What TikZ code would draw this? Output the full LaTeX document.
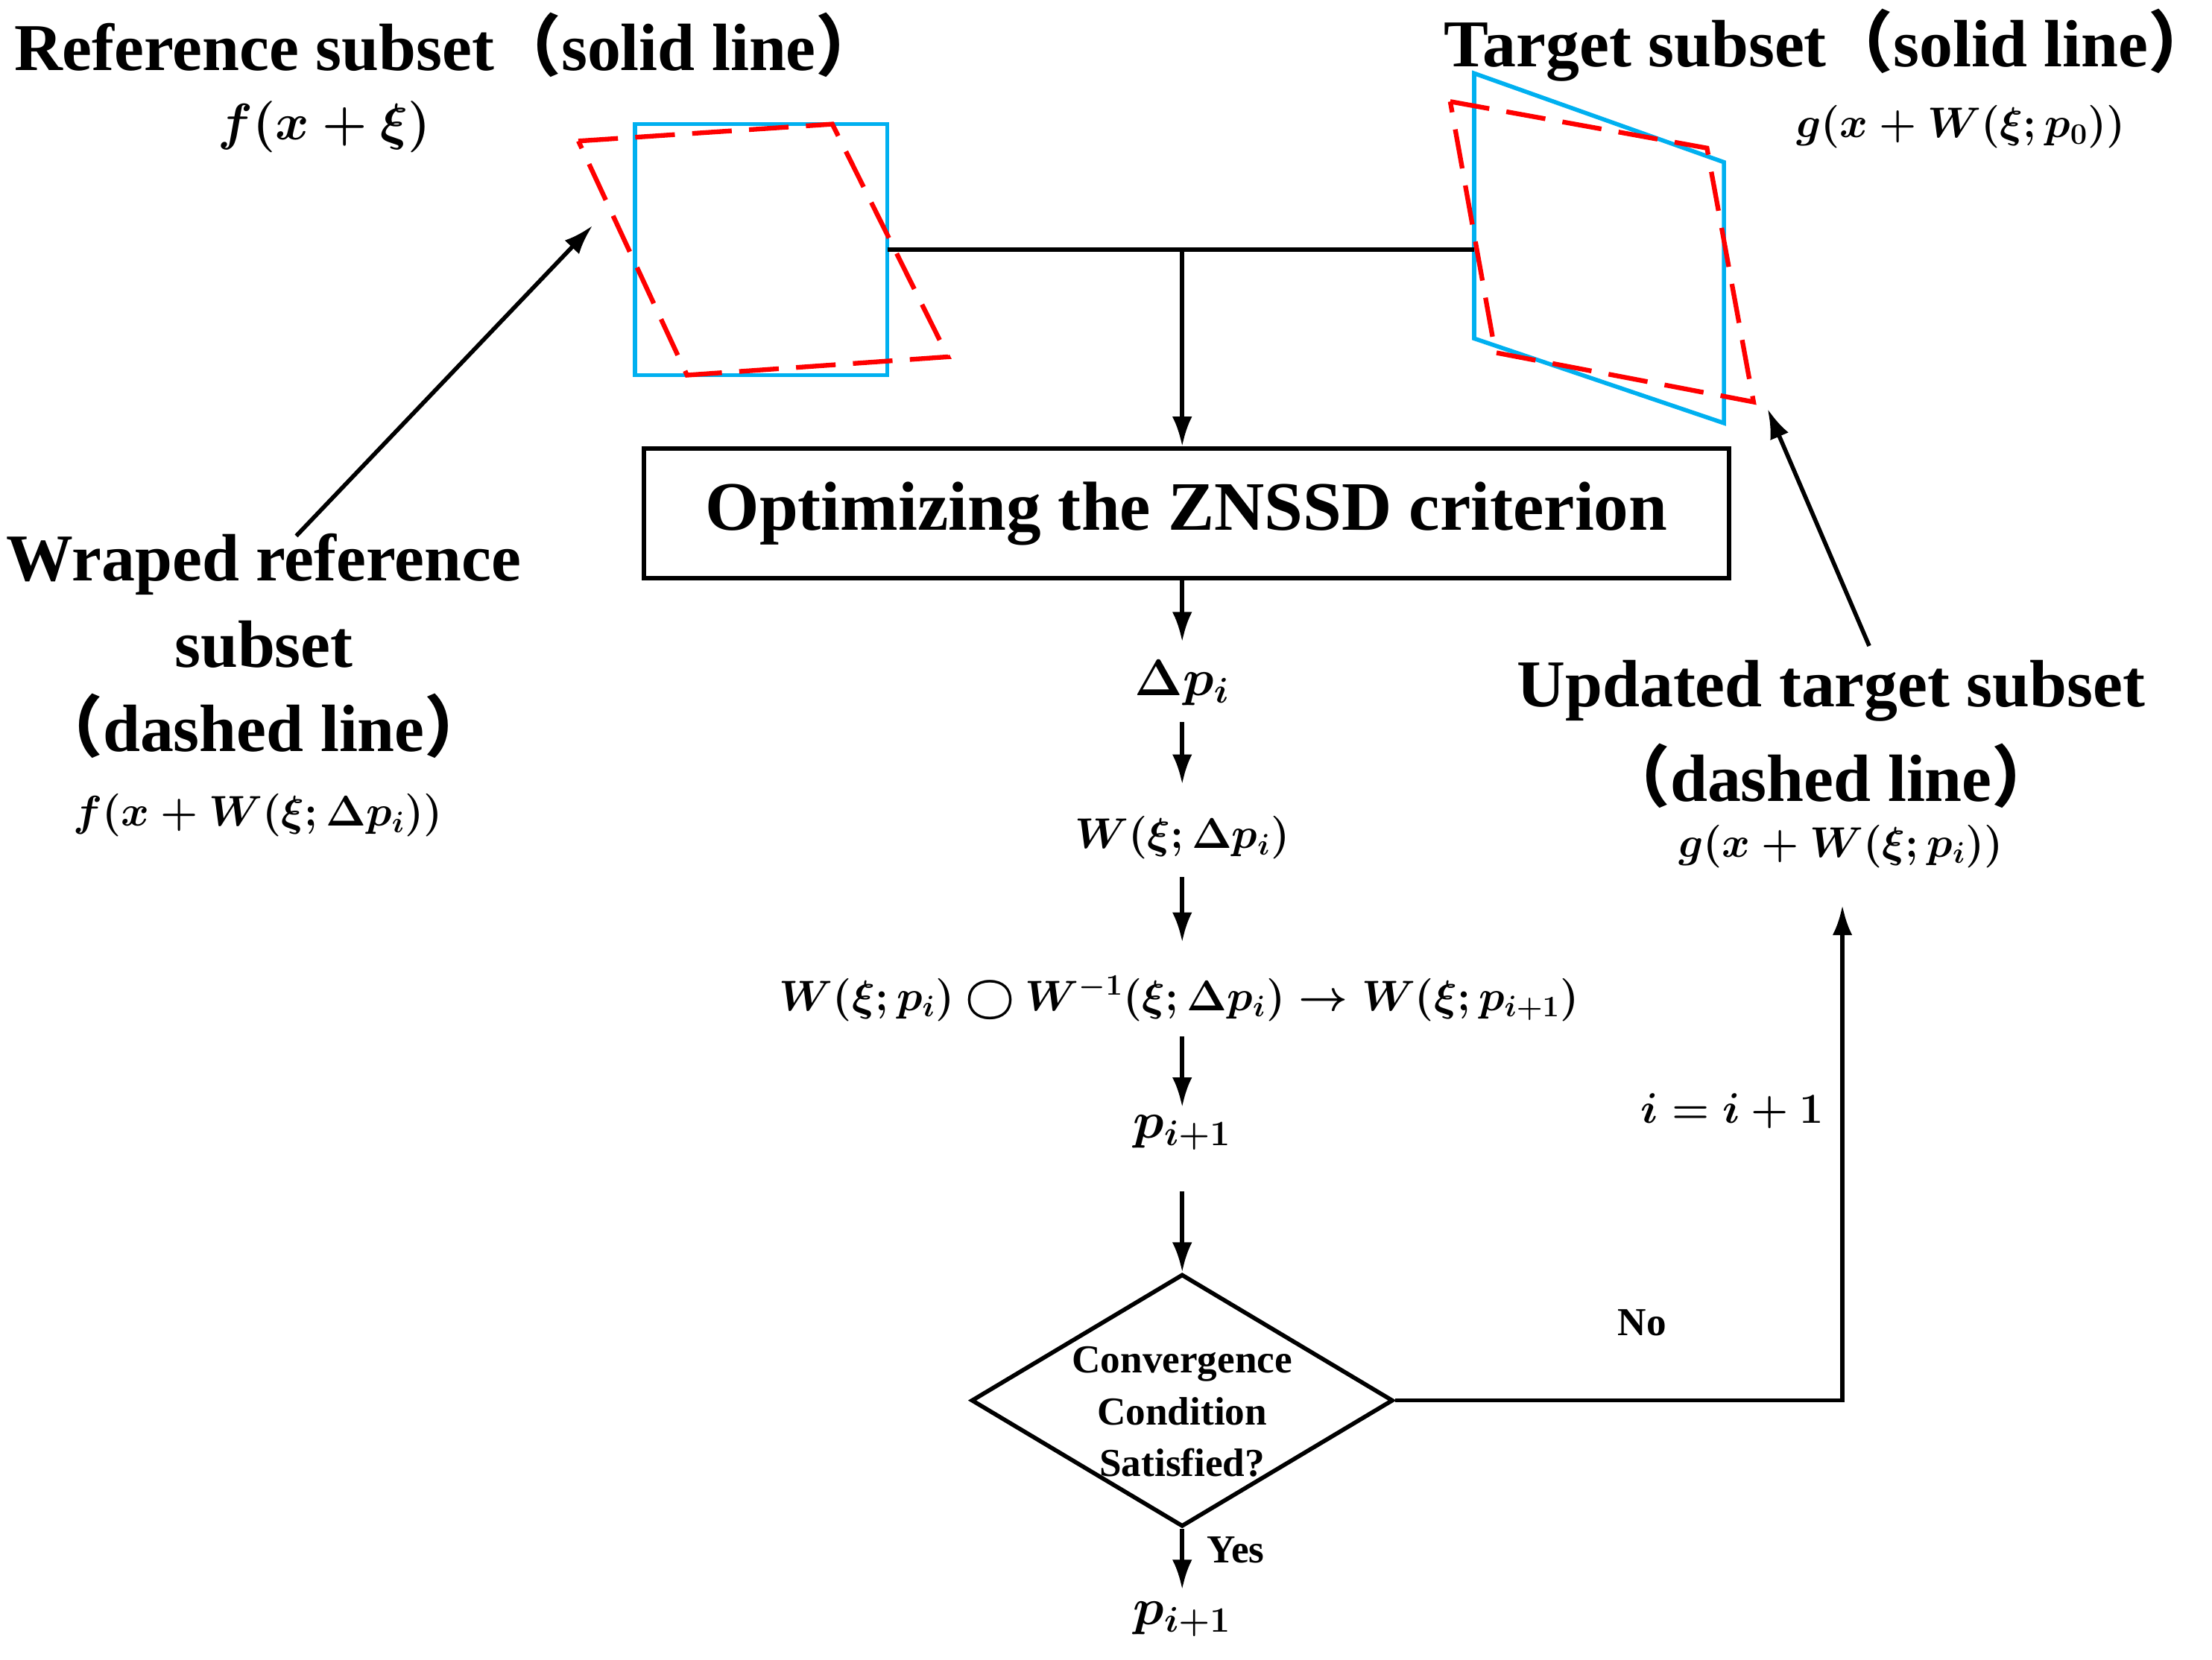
\documentclass[tikz,border=0pt]{standalone}
\usepackage{amsmath,bm}
\usepackage{fontspec}
\setmainfont{Liberation Serif}
\newfontfamily\cjk{Noto Sans CJK SC}
\usetikzlibrary{arrows.meta,shapes.geometric}
\newcommand{\lp}{{\cjk （}}
\newcommand{\rp}{{\cjk ）}}
\begin{document}
\begin{tikzpicture}[x=0.02cm,y=-0.02cm,
  line/.style={line width=1.7pt},
  arr/.style={line width=1.7pt,-{Latex[length=12pt,width=8pt]}},
  blue/.style={draw={rgb,255:red,0;green,176;blue,240},line width=1.7pt},
  red/.style={draw=red,line width=1.9pt,dash pattern=on 16pt off 7pt},
  big/.style={font=\fontsize{27}{31}\selectfont\bfseries},
  mth/.style={font=\fontsize{20}{24}\selectfont\boldmath},
  mths/.style={font=\fontsize{17.5}{21}\selectfont\boldmath},
  sm/.style={font=\fontsize{16}{19}\selectfont\bfseries}]
\useasboundingbox (0,0) rectangle (1568,1177);
% left subsets
\draw[blue] (450,88) rectangle (629,266);
\draw[red] (410,100) -- (590,88) -- (672,253) -- (487,266) -- cycle;
% right subsets
\draw[blue] (1045,52) -- (1222,115) -- (1222,300) -- (1045,240) -- cycle;
\draw[red] (1028,72) -- (1210,105) -- (1243,285) -- (1060,250) -- cycle;
% titles
\node[big] (t1) at (318,32) {Reference subset\lp solid line\rp};
\node[mth] (f1) at (230,90) {$f(x+\xi)$};
\node[big] (t2) at (1297,32) {Target subset\lp solid line\rp};
\node[mths] (g1) at (1390,90) {$g(x+W(\xi;p_0))$};
% junction
\coordinate (jl) at (629,177);
\coordinate (jr) at (1045,177);
\coordinate (jm) at (838,177);
\draw[line] (jl) -- (jr);
\node[draw,line width=1.7pt,minimum width=769*0.02cm,minimum height=92*0.02cm,
  font=\fontsize{28}{32}\selectfont\bfseries] (box) at (841,364) {Optimizing the ZNSSD criterion};
\draw[arr] (jm) -- (box.north -| jm);
\node[mth] (dp) at (838,484) {$\Delta p_i$};
\node[mths] (w1) at (838,594) {$W(\xi;\Delta p_i)$};
\node[mths] (w2) at (836,708) {$W(\xi;p_i)\bigcirc W^{-1}(\xi;\Delta p_i)\rightarrow W(\xi;p_{i+1})$};
\node[mth] (p1) at (838,803) {$p_{i+1}$};
\draw[arr] (box.south -| jm) -- (838,455);
\draw[arr] (838,512) -- (838,556);
\draw[arr] (838,622) -- (838,668);
\draw[arr] (838,735) -- (838,785);
\node[draw,diamond,line width=1.7pt,minimum width=299*0.02cm,minimum height=179*0.02cm,inner sep=0pt] (d) at (838,993) {};
\node[sm,align=center] (dt) at (838,1001) {Convergence\\[2pt]Condition\\[2pt]Satisfied?};
\draw[arr] (838,845) -- (d.north);
\node[mth] (p2) at (838,1148) {$p_{i+1}$};
\draw[arr] (d.south) -- (838,1127);
\node[sm] (yes) at (876,1099) {Yes};
\node[sm] (no) at (1164,938) {No};
\coordinate (up) at (1306,642);
\draw[arr] (d.east) -- (1306,993) -- (up);
\node[font=\fontsize{19}{23}\selectfont\boldmath] (inc) at (1228,788) {$i=i+1$};
% updated target
\node[big] (u1) at (1298,490) {Updated target subset};
\node[big] (u2) at (1298,550) {\lp dashed line\rp};
\node[mths] (u3) at (1305,600) {$g(x+W(\xi;p_i))$};
\coordinate (ua) at (1325,458);
\coordinate (ub) at (1253,290);
\draw[arr] (ua) -- (ub);
% wraped reference
\node[big] (w1l) at (187,400) {Wraped reference};
\node[big] (w2l) at (187,457) {subset};
\node[big] (w3l) at (187,515) {\lp dashed line\rp};
\node[mths] (w4l) at (183,578) {$f(x+W(\xi;\Delta p_i))$};
\coordinate (la) at (210,380);
\coordinate (lb) at (420,160);
\draw[arr] (la) -- (lb);
\end{tikzpicture}
\end{document}
